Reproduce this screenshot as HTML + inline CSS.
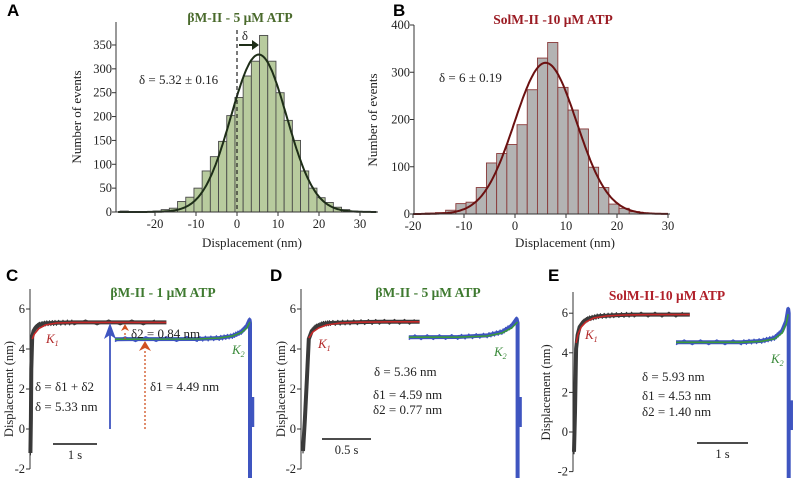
<!DOCTYPE html>
<html><head><meta charset="utf-8">
<style>
html,body{margin:0;padding:0;background:#fff;}
svg{display:block;}
text{font-family:"Liberation Serif",serif;}
.lbl{font-family:"Liberation Sans",sans-serif;font-weight:bold;font-size:17px;}
.tick{font-size:12.5px;fill:#222;}
.ann{font-size:13px;fill:#222;}
</style></head>
<body>
<svg id="fig" width="796" height="478" viewBox="0 0 796 478" xmlns="http://www.w3.org/2000/svg">
<text class="lbl" x="7" y="16">A</text>
<text class="lbl" x="393" y="16">B</text>
<text class="lbl" x="6" y="281">C</text>
<text class="lbl" x="270" y="281">D</text>
<text class="lbl" x="548" y="281">E</text>
<g id="gA"></g>
<g id="gB"></g>
<g id="gC"></g>
<g id="gD"></g>
<g id="gE"></g>
</svg>
<script>
// ---- Histogram A data ----
const binsA = [-27.5,-25.5,-23.5,-21.5,-19.5,-17.5,-15.5,-13.5,-11.5,-9.5,-7.5,-5.5,-3.5,-1.5,0.5,2.5,4.5,6.5,8.5,10.5,12.5,14.5,16.5,18.5,20.5,22.5,24.5,26.5,28.5];
const countsA = [2,1,1,1,2,5,8,22,31,50,86,116,148,202,240,285,316,370,316,250,192,150,86,50,30,20,10,5,2];
const yTicksA = [0,50,100,150,200,250,300,350];
const xTicksA = [-20,-10,0,10,20,30];
const fitA = {mean:5.32, amp:330, sigma:6.8};
// ---- Histogram B data ----
const binsB = [-18.6,-16.6,-14.6,-12.6,-10.6,-8.6,-6.6,-4.6,-2.6,-0.6,1.4,3.4,5.4,7.4,9.4,11.4,13.4,15.4,17.4,19.4,21.4,23.4,25.4];
const countsB = [1,2,3,8,22,25,56,108,128,147,189,263,330,363,268,220,180,99,56,21,12,5,2];
const yTicksB = [0,100,200,300,400];
const xTicksB = [-20,-10,0,10,20,30];
const fitB = {mean:6, amp:320, sigma:6.1};
// ---- Trace data (time s, displacement nm) ----
const dispTicks = [-2,0,2,4,6];
const grayC_t = [0.01,0.02,0.03,0.05,0.08,0.12,0.2,0.35,0.6,1.0,3.1];
const grayC_y = [-1.2,0.5,3.0,4.6,4.9,5.05,5.2,5.28,5.31,5.33,5.33];
const fitC1_t = [0.05,0.1,0.2,0.35,0.6,1.0,3.1];
const fitC1_y = [4.5,4.75,5.02,5.2,5.3,5.33,5.33];
const blueC_t = [1.93,3.8,4.3,4.6,4.8,4.93,4.99,5.0,5.0];
const blueC_y = [4.49,4.5,4.55,4.65,4.85,5.15,5.45,5.3,-2.6];
const fitC2_t = [1.93,3.8,4.3,4.6,4.8,4.93,5.0];
const fitC2_y = [4.49,4.5,4.55,4.65,4.82,5.05,5.35];
const grayD_t = [0.02,0.04,0.06,0.08,0.11,0.15,0.22,0.3,0.5,0.8,1.21];
const grayD_y = [-1.1,0.5,2.5,4.5,4.9,5.1,5.25,5.3,5.33,5.36,5.36];
const fitD1_t = [0.08,0.12,0.18,0.26,0.4,0.6,0.9,1.21];
const fitD1_y = [4.55,4.85,5.05,5.2,5.3,5.34,5.36,5.36];
const blueD_t = [1.1,1.6,1.9,2.05,2.15,2.2,2.21,2.21];
const blueD_y = [4.59,4.6,4.68,4.85,5.15,5.5,5.3,-2.6];
const fitD2_t = [1.1,1.6,1.9,2.05,2.15,2.21];
const fitD2_y = [4.59,4.59,4.65,4.8,5.05,5.35];
const grayE_t = [0.02,0.04,0.06,0.09,0.13,0.2,0.3,0.5,0.8,1.2,2.29];
const grayE_y = [-1.0,1.0,4.2,4.9,5.3,5.55,5.72,5.85,5.9,5.93,5.93];
const fitE1_t = [0.06,0.1,0.16,0.25,0.4,0.65,1.0,1.5,2.29];
const fitE1_y = [4.5,4.95,5.3,5.55,5.75,5.86,5.91,5.93,5.93];
const blueE_t = [2.02,3.3,3.7,3.95,4.1,4.18,4.22,4.23,4.23];
const blueE_y = [4.53,4.53,4.6,4.75,5.1,5.6,6.2,6.0,-2.6];
const fitE2_t = [2.02,3.3,3.7,3.95,4.1,4.18,4.22];
const fitE2_y = [4.53,4.53,4.58,4.7,5.0,5.45,5.95];

const NS="http://www.w3.org/2000/svg";
function mk(parent,tag,attrs,txt){const e=document.createElementNS(NS,tag);for(const k in attrs)e.setAttribute(k,attrs[k]);if(txt!==undefined)e.textContent=txt;parent.appendChild(e);return e;}

function histogram(g,cfg){
  const sx=v=>cfg.x0+(v-cfg.xv0)*cfg.pxPerX;
  const sy=v=>cfg.y0-v*cfg.pxPerY;
  const bw=2;
  cfg.bins.forEach((c,i)=>{
    const r=mk(g,'rect',{x:sx(c-bw/2),y:sy(cfg.counts[i]),width:bw*cfg.pxPerX,height:cfg.counts[i]*cfg.pxPerY,fill:cfg.fill,stroke:cfg.stroke,'stroke-width':0.9});
    
    
  });
  let d='';
  for(let v=cfg.xmin;v<=cfg.xmax;v+=0.25){const y=cfg.fit.amp*Math.exp(-Math.pow(v-cfg.fit.mean,2)/(2*cfg.fit.sigma*cfg.fit.sigma));d+=(d?'L':'M')+sx(v).toFixed(1)+','+sy(y).toFixed(1);}
  const p=mk(g,'path',{d:d,fill:'none',stroke:cfg.curve,'stroke-width':2});
  
  
  mk(g,'line',{x1:cfg.axL,y1:cfg.axTop,x2:cfg.axL,y2:cfg.y0,stroke:'#333','stroke-width':1});
  mk(g,'line',{x1:cfg.axL,y1:cfg.y0,x2:cfg.axR,y2:cfg.y0,stroke:'#333','stroke-width':1});
  cfg.yt.forEach(t=>{mk(g,'line',{x1:cfg.axL-4,y1:sy(t),x2:cfg.axL,y2:sy(t),stroke:'#333'});
    const tx=mk(g,'text',{class:'tick',x:cfg.axL-4,y:sy(t)+4,'text-anchor':'end'},String(t));
    
    });
  cfg.xt.forEach(t=>{mk(g,'line',{x1:sx(t),y1:cfg.y0,x2:sx(t),y2:cfg.y0+4,stroke:'#333'});
    const tx=mk(g,'text',{class:'tick',x:sx(t),y:cfg.y0+16,'text-anchor':'middle'},String(t));
    
    });
  return {sx,sy};
}

histogram(document.getElementById('gA'),{x0:237,xv0:0,pxPerX:4.1,y0:212,pxPerY:23.86/50,bins:binsA,counts:countsA,fill:'#b8cb9e',stroke:'#4a4a4a',curve:'#1e2e18',fit:fitA,xmin:-29,xmax:34,axL:116,axR:378,axTop:22,yt:yTicksA,xt:xTicksA});
histogram(document.getElementById('gB'),{x0:515,xv0:0,pxPerX:5.1,y0:214,pxPerY:47.25/100,bins:binsB,counts:countsB,fill:'#b3b3b3',stroke:'#8a3a3a',curve:'#6b1111',fit:fitB,xmin:-20,xmax:30,axL:414,axR:670,axTop:25,yt:yTicksB,xt:xTicksB});

function traces(g,cfg){
  const sx=t=>cfg.x0+t*cfg.pxPerS;
  const sy=v=>cfg.y0-v*cfg.pxPerU;
  const poly=(ts,ys,col,w,name)=>{let d='';ts.forEach((t,i)=>{d+=(i?'L':'M')+sx(t).toFixed(1)+','+sy(ys[i]).toFixed(1);});
    const p=mk(g,'path',{d:d,fill:'none',stroke:col,'stroke-width':w,'stroke-linejoin':'round'});
    
    return p;};
  const noisy=(ts,ys,col,w,name)=>{poly(ts,ys,col,w,name);
    const jt=[],jy=[];for(let i=0;i<ts.length-1;i++){const n=8;for(let k=0;k<n;k++){const f=k/n;jt.push(ts[i]+(ts[i+1]-ts[i])*f);jy.push(ys[i]+(ys[i+1]-ys[i])*f+((k%2)?0.12:-0.12));}}
    poly(jt,jy,col,1.2,name+'-noise');};
  noisy(cfg.gt,cfg.gy,'#3b3b3b',4,'gray-trace');
  noisy(cfg.bt,cfg.by,'#3f55c0',4,'blue-trace');
  // post-detachment blip
  const te=cfg.bt[cfg.bt.length-1]+3/cfg.pxPerS;
  const bl=mk(g,'line',{x1:sx(te),y1:sy(1.6),x2:sx(te),y2:sy(0.1),stroke:'#3f55c0','stroke-width':2.5});
  
  
  poly(cfg.f1t,cfg.f1y,'#c62828',1.6,'fit-k1');
  poly(cfg.f2t,cfg.f2y,'#3a9a3a',1.6,'fit-k2');
  mk(g,'line',{x1:cfg.axL,y1:cfg.axTop,x2:cfg.axL,y2:sy(-2),stroke:'#333'});
  dispTicks.forEach(t=>{mk(g,'line',{x1:cfg.axL-4,y1:sy(t),x2:cfg.axL,y2:sy(t),stroke:'#333'});
    const tx=mk(g,'text',{class:'tick',x:cfg.axL-5,y:sy(t)+4,'text-anchor':'end'},String(t));
    
    });
  const yl=mk(g,'text',{class:'tick',x:0,y:0,'text-anchor':'middle',transform:`translate(${cfg.ylx},${sy(2)}) rotate(-90)`},'Displacement (nm)');
  
  
  mk(g,'line',{x1:cfg.sbx,y1:cfg.sby,x2:cfg.sbx+cfg.sbLen*cfg.pxPerS,y2:cfg.sby,stroke:'#111','stroke-width':1.6});
  const st=mk(g,'text',{class:'tick',x:cfg.sbx+cfg.sbLen*cfg.pxPerS/2,y:cfg.sby+15,'text-anchor':'middle'},cfg.sbText);
  
  
  return {sx,sy};
}

traces(document.getElementById('gC'),{x0:30,pxPerS:44,y0:429,pxPerU:20,gt:grayC_t,gy:grayC_y,bt:blueC_t,by:blueC_y,f1t:fitC1_t,f1y:fitC1_y,f2t:fitC2_t,f2y:fitC2_y,axL:30,axTop:289,ylx:13,sbx:53,sby:444,sbLen:1,sbText:'1 s'});
traces(document.getElementById('gD'),{x0:301,pxPerS:98,y0:429,pxPerU:20,gt:grayD_t,gy:grayD_y,bt:blueD_t,by:blueD_y,f1t:fitD1_t,f1y:fitD1_y,f2t:fitD2_t,f2y:fitD2_y,axL:301,axTop:289,ylx:285,sbx:322,sby:439,sbLen:0.5,sbText:'0.5 s'});
traces(document.getElementById('gE'),{x0:573,pxPerS:51,y0:432,pxPerU:19.8,gt:grayE_t,gy:grayE_y,bt:blueE_t,by:blueE_y,f1t:fitE1_t,f1y:fitE1_y,f2t:fitE2_t,f2y:fitE2_y,axL:573,axTop:292,ylx:550,sbx:697,sby:443,sbLen:1,sbText:'1 s'});
</script>
<svg width="796" height="478" viewBox="0 0 796 478" style="position:absolute;left:0;top:0">
<text x="240" y="22" text-anchor="middle" style="font-family:'Liberation Serif',serif;font-weight:bold;font-size:13.5px;fill:#4a6a2c">βM-II - 5 μM ATP</text>
<line x1="237" y1="30" x2="237" y2="212" stroke="#222" stroke-dasharray="4,3" stroke-width="1.2"/>
<line x1="239" y1="45" x2="254" y2="45" stroke="#1e2e18" stroke-width="2"/>
<path d="M252,40 L259,45 L252,50 Z" fill="#1e2e18"/>
<text x="245" y="40" class="ann" text-anchor="middle">δ</text>
<text x="139" y="84" class="ann">δ = 5.32 ± 0.16</text>
<text transform="translate(81,117) rotate(-90)" text-anchor="middle" class="ann">Number of events</text>
<text x="252" y="247" text-anchor="middle" class="ann">Displacement (nm)</text>
<text x="553" y="24" text-anchor="middle" style="font-family:'Liberation Serif',serif;font-weight:bold;font-size:13.5px;fill:#9b1c24">SolM-II -10 μM ATP</text>
<text x="439" y="82" class="ann">δ = 6 ± 0.19</text>
<text transform="translate(377,120) rotate(-90)" text-anchor="middle" class="ann">Number of events</text>
<text x="565" y="247" text-anchor="middle" class="ann">Displacement (nm)</text>
<!-- C annotations -->
<text x="163" y="297" text-anchor="middle" style="font-family:'Liberation Serif',serif;font-weight:bold;font-size:13.5px;fill:#3f7a30">βM-II - 1 μM ATP</text>
<line x1="110" y1="429" x2="110" y2="334" stroke="#3f55c0" stroke-width="1.8"/>
<path d="M104,339 L110,323 L116,339 L110,335 Z" fill="#3f55c0"/>
<line x1="145" y1="429" x2="145" y2="350" stroke="#d05020" stroke-width="1.3" stroke-dasharray="2,2"/>
<path d="M139,351 L145,341 L151,351 L145,348 Z" fill="#d05020"/>
<line x1="125" y1="339" x2="125" y2="331" stroke="#d05020" stroke-width="1.3" stroke-dasharray="2,2"/>
<path d="M121,331 L125,324 L129,331 L125,329 Z" fill="#d05020"/>
<text x="131" y="338" class="ann">δ2 = 0.84 nm</text>
<text x="150" y="391" class="ann">δ1 = 4.49 nm</text>
<text x="35" y="391" class="ann">δ = δ1 + δ2</text>
<text x="35" y="411" class="ann">δ = 5.33 nm</text>
<text x="46" y="343" style="font-family:'Liberation Serif',serif;font-style:italic;font-size:13px;fill:#b22a2a">K<tspan font-size="8" dy="3">1</tspan></text>
<text x="232" y="354" style="font-family:'Liberation Serif',serif;font-style:italic;font-size:13px;fill:#3a8a3a">K<tspan font-size="8" dy="3">2</tspan></text>
<!-- D -->
<text x="428" y="297" text-anchor="middle" style="font-family:'Liberation Serif',serif;font-weight:bold;font-size:13.5px;fill:#3f7a30">βM-II - 5 μM ATP</text>
<text x="318" y="348" style="font-family:'Liberation Serif',serif;font-style:italic;font-size:13px;fill:#b22a2a">K<tspan font-size="8" dy="3">1</tspan></text>
<text x="494" y="356" style="font-family:'Liberation Serif',serif;font-style:italic;font-size:13px;fill:#3a8a3a">K<tspan font-size="8" dy="3">2</tspan></text>
<text x="374" y="376" class="ann">δ = 5.36 nm</text>
<text x="373" y="399" class="ann">δ1 = 4.59 nm</text>
<text x="373" y="414" class="ann">δ2 = 0.77 nm</text>
<!-- E -->
<text x="667" y="300" text-anchor="middle" style="font-family:'Liberation Serif',serif;font-weight:bold;font-size:13.5px;fill:#b0202a">SolM-II-10 μM ATP</text>
<text x="585" y="339" style="font-family:'Liberation Serif',serif;font-style:italic;font-size:13px;fill:#b22a2a">K<tspan font-size="8" dy="3">1</tspan></text>
<text x="771" y="363" style="font-family:'Liberation Serif',serif;font-style:italic;font-size:13px;fill:#3a8a3a">K<tspan font-size="8" dy="3">2</tspan></text>
<text x="642" y="381" class="ann">δ = 5.93 nm</text>
<text x="642" y="400" class="ann">δ1 = 4.53 nm</text>
<text x="642" y="416" class="ann">δ2 = 1.40 nm</text>
</svg>
</body></html>
